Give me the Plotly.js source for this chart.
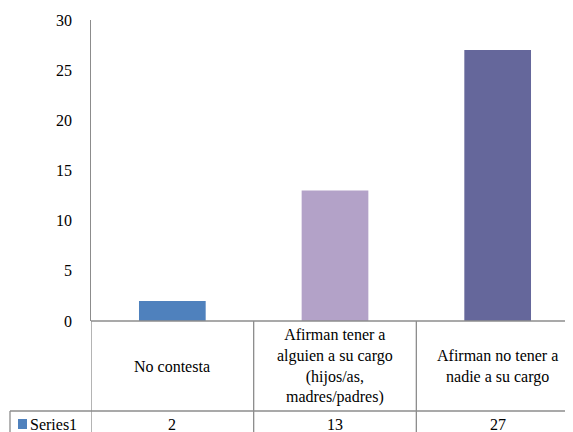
<!DOCTYPE html>
<html>
<head>
<meta charset="utf-8">
<script src="https://cdn.plot.ly/plotly-3.0.1.min.js"></script>
</head>
<body>
<div id="chart"></div>
<script>
const categories = ["No contesta", "Afirman tener a alguien a su cargo (hijos/as, madres/padres)", "Afirman no tener a nadie a su cargo"];
const categoryLines = [
  ["No contesta"],
  ["Afirman tener a", "alguien a su cargo", "(hijos/as,", "madres/padres)"],
  ["Afirman no tener a", "nadie a su cargo"],
];
const values = [2, 13, 27];
const barColors = ["#4F81BD", "#B3A2C8", "#65679B"];
const seriesName = "Series1";
const yTicks = [0, 5, 10, 15, 20, 25, 30];

const W = 573, H = 432;
const M = { l: 83, r: 2, t: 12, b: 119 };
const plotH = H - M.t - M.b;
const plotW = W - M.l - M.r;
const FONT = "Times New Roman";
const FS = 16;
const LINE = "#8c8c8c";

// pixel -> paper helpers
const py = (p) => (H - M.b - p) / plotH;
const px = (p) => (p - M.l) / plotW;

const rowTop = py(313);
const rowMid = py(403);
const rowBot = py(430);

const trace = {
  type: "bar",
  x: categories.map((_, i) => i),
  y: values,
  name: seriesName,
  marker: { color: barColors },
};

const shapes = [];
// table: vertical lines on category boundaries
[-0.5, 0.5, 1.5, 2.5].forEach((b) => {
  shapes.push({
    type: "line", xref: "x", yref: "paper",
    x0: b, x1: b, y0: rowTop, y1: rowBot,
    line: { color: LINE, width: 1.3 },
  });
});
shapes.push({
  type: "line", xref: "x", yref: "paper",
  x0: -0.5, x1: 2.5, y0: rowTop, y1: rowTop,
  line: { color: LINE, width: 1.3 },
});
[rowMid, rowBot].forEach((yy) => {
  shapes.push({
    type: "line", xref: "paper", yref: "paper",
    x0: px(2), x1: 1, y0: yy, y1: yy,
    line: { color: LINE, width: 1.3 },
  });
});
shapes.push({
  type: "line", xref: "paper", yref: "paper",
  x0: px(2), x1: px(2), y0: rowMid, y1: rowBot,
  line: { color: LINE, width: 1.3 },
});
// legend key
shapes.push({
  type: "rect", xref: "paper", yref: "paper",
  x0: px(10), x1: px(19), y0: py(411), y1: py(421),
  fillcolor: barColors[0], line: { width: 0 },
});

const annotations = [];
categoryLines.forEach((lines, i) => {
  annotations.push({
    xref: "x", yref: "paper", x: i, y: (rowTop + rowMid) / 2,
    text: lines.join("<br>"), showarrow: false,
    xanchor: "center", yanchor: "middle", align: "center",
    font: { family: FONT, size: FS },
  });
  annotations.push({
    xref: "x", yref: "paper", x: i, y: (rowMid + rowBot) / 2,
    text: String(values[i]), showarrow: false,
    xanchor: "center", yanchor: "middle",
    font: { family: FONT, size: FS },
  });
});
annotations.push({
  xref: "paper", yref: "paper", x: px(20), y: (rowMid + rowBot) / 2,
  text: seriesName, showarrow: false,
  xanchor: "left", yanchor: "middle",
  font: { family: FONT, size: FS },
});
// y tick labels placed on the y scale
yTicks.forEach((t) => {
  annotations.push({
    xref: "paper", yref: "y", x: px(66), y: t,
    text: String(t), showarrow: false,
    xanchor: "right", yanchor: "middle",
    font: { family: FONT, size: FS },
  });
});

const layout = {
  width: W,
  height: H,
  margin: M,
  paper_bgcolor: "#fff",
  plot_bgcolor: "#fff",
  showlegend: false,
  bargap: 0.59,
  font: { family: FONT, size: FS, color: "#000" },
  xaxis: {
    range: [-0.5, 2.5],
    visible: false,
  },
  yaxis: {
    range: [0, 30],
    tickvals: yTicks,
    showticklabels: false,
    showgrid: false,
    zeroline: false,
    showline: true,
    linecolor: LINE,
    linewidth: 1.5,
    ticks: "",
  },
  shapes,
  annotations,
};

Plotly.newPlot("chart", [trace], layout, { staticPlot: true });
</script>
</body>
</html>
